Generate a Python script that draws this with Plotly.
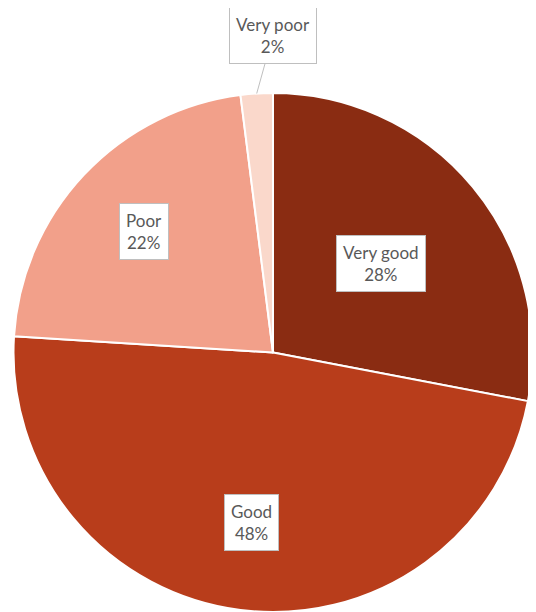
import math
import plotly.graph_objects as go

categories = ["Very good", "Good", "Poor", "Very poor"]
values = [28, 48, 22, 2]
colors = ["#8A2C12", "#B83D1B", "#F2A08A", "#FAD8CB"]
label_radius = [0.54, 0.66, 0.68, 1.0]

# page body has an 8px margin; figure sized to fit the window
OFF = 8
W, H = 536 - OFF, 612 - OFF
# pie spans screen x 13..533, y 93..613
dom_x = [(13 - OFF) / W, (533 - OFF) / W]
dom_y = [1 - (613 - OFF) / H, 1 - (93 - OFF) / H]
dom_y[0] = max(dom_y[0], 0.0)

fig = go.Figure(go.Pie(
    labels=categories,
    values=values,
    sort=False,
    direction="clockwise",
    rotation=0,
    marker=dict(colors=colors, line=dict(color="white", width=2)),
    textinfo="none",
    hoverinfo="label+percent",
    showlegend=False,
    domain=dict(x=dom_x, y=dom_y),
))

cx_px = (dom_x[0] + dom_x[1]) / 2 * W
cy_px = H - (dom_y[0] + dom_y[1]) / 2 * H
rad_px = min((dom_x[1] - dom_x[0]) * W, (dom_y[1] - dom_y[0]) * H) / 2

total = sum(values)
cum = 0
annotations = []
for cat, v, rf in zip(categories, values, label_radius):
    mid = (cum + v / 2) / total * 2 * math.pi
    cum += v
    px = cx_px + rf * rad_px * math.sin(mid)
    py = cy_px - rf * rad_px * math.cos(mid)
    text = f"{cat}<br>{round(v / total * 100)}%"
    common = dict(
        text=text, xref="paper", yref="paper",
        x=px / W, y=1 - py / H,
        xanchor="center", yanchor="middle",
        font=dict(family="Lato, Open Sans, sans-serif", size=17, color="#595959"),
        bgcolor="white", bordercolor="#BFBFBF", borderwidth=1, borderpad=6,
        align="center",
    )
    if rf >= 1.0:
        common.update(showarrow=True, arrowhead=0, arrowwidth=1, arrowcolor="#BFBFBF",
                      ax=(273 - OFF) - px, ay=(35 - OFF) - py)
    else:
        common.update(showarrow=False)
    annotations.append(common)

fig.update_layout(
    width=W, height=H,
    margin=dict(l=0, r=0, t=0, b=0),
    paper_bgcolor="white",
    annotations=annotations,
)

fig.write_html("out.html")
